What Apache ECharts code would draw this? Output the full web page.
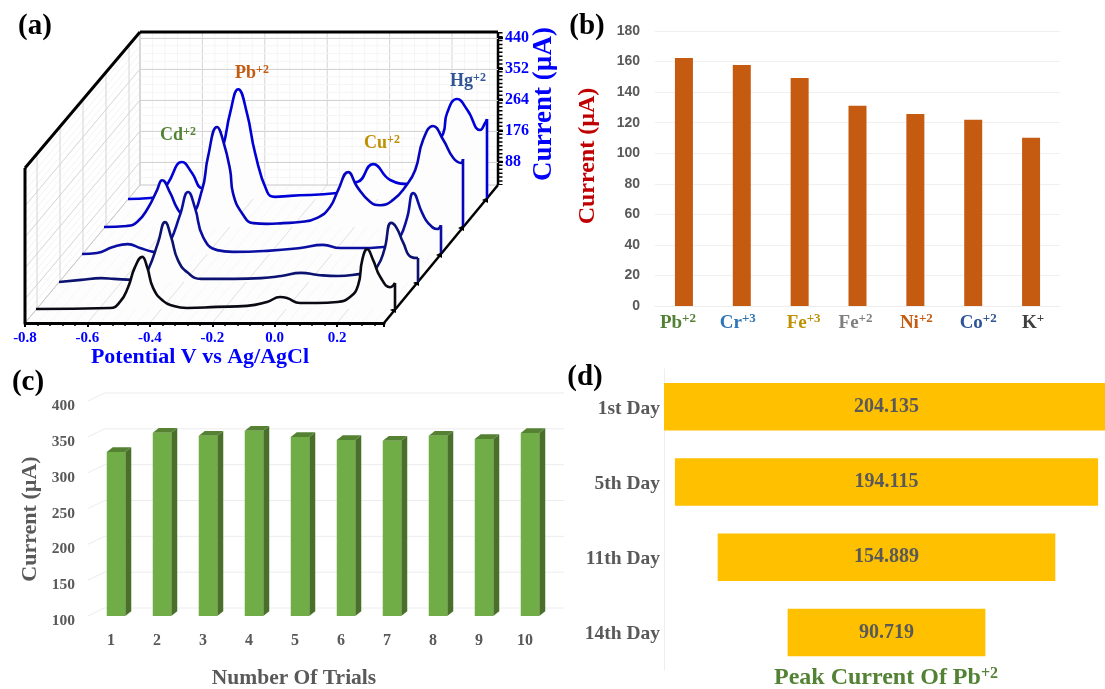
<!DOCTYPE html>
<html><head><meta charset="utf-8">
<style>html,body{margin:0;padding:0;background:#fff}#c{width:1105px;height:689px}</style>
<script src="https://cdn.jsdelivr.net/npm/echarts@6/dist/echarts.min.js"></script>
</head><body><div id="c"></div>
<script>
// ---------- Panel (a): voltammograms, front to back ----------
const potentialA=[-0.80,-0.563,-0.531,-0.505,-0.483,-0.460,-0.444,-0.425,-0.393,-0.361,-0.316,-0.220,-0.124,-0.060,-0.018,0.004,0.046,0.101,0.165,0.206,0.232,0.245,0.261,0.280,0.303,0.335,0.35];
const currentA=[0,3,20,62,119,148,119,60,23,9,3,6,9,20,34,31,17,17,20,34,68,139,170,139,91,62,74];
const potentialB=[-0.80,-0.729,-0.665,-0.624,-0.563,-0.537,-0.512,-0.483,-0.460,-0.441,-0.419,-0.387,-0.345,-0.239,-0.153,-0.088,-0.024,0.030,0.094,0.168,0.194,0.219,0.242,0.264,0.280,0.303,0.328,0.35];
const currentB=[0,6,11,9,6,6,40,111,170,128,62,26,9,9,11,17,26,20,17,23,26,43,91,168,156,111,71,68];
const potentialC=[-0.80,-0.752,-0.701,-0.653,-0.614,-0.572,-0.544,-0.518,-0.486,-0.460,-0.438,-0.412,-0.367,-0.316,-0.207,-0.101,-0.028,0.027,0.101,0.165,0.194,0.219,0.242,0.261,0.290,0.309,0.338,0.35];
const currentC=[0,3,20,28,17,6,3,34,111,176,131,48,11,6,9,17,26,17,17,20,23,48,105,173,116,88,71,82];
const potentialD=[-0.80,-0.726,-0.694,-0.659,-0.630,-0.614,-0.588,-0.566,-0.550,-0.524,-0.486,-0.467,-0.438,-0.419,-0.396,-0.387,-0.354,-0.322,-0.278,-0.226,-0.172,-0.117,-0.076,-0.050,-0.018,0.011,0.053,0.085,0.126,0.165,0.197,0.222,0.254,0.287,0.319,0.344,0.35];
const currentD=[0,3,14,54,105,133,97,54,40,40,105,199,284,247,162,97,34,11,9,11,14,26,57,105,156,114,71,62,77,114,162,247,287,247,196,182,193];
const potentialE=[-0.80,-0.729,-0.704,-0.672,-0.627,-0.595,-0.563,-0.537,-0.496,-0.473,-0.447,-0.419,-0.393,-0.354,-0.329,-0.281,-0.130,-0.105,-0.066,-0.015,0.040,0.097,0.120,0.184,0.210,0.222,0.254,0.287,0.328,0.344,0.35];
const currentE=[0,3,9,45,105,74,31,54,148,244,312,244,131,20,6,9,17,45,48,99,54,43,74,153,187,244,284,253,196,216,227];
// ---------- Panel (b) ----------
const ionCategories=['Pb+2','Cr+3','Fe+3','Fe+2','Ni+2','Co+2','K+'];
const ionCurrents=[162.3,157.7,149.2,131,125.6,121.9,110.2];
// ---------- Panel (c) ----------
const trialCategories=['1','2','3','4','5','6','7','8','9','10'];
const trialCurrents=[329,355.8,351.6,358.6,349.8,345.5,344.6,351.6,347,355.4];
const trialAxisTicks=[100,150,200,250,300,350,400];
// ---------- Panel (d) ----------
const dayCategories=['1st Day','5th Day','11th Day','14th Day'];
const dayPeakCurrents=[204.135,194.115,154.889,90.719];

const SERIF='"Liberation Serif","Times New Roman",serif';
const SANS='"Liberation Sans",Arial,sans-serif';
const grids=[],xAxes=[],yAxes=[],series=[],gfx=[];

function seg(x1,y1,x2,y2,stroke,w,dash){gfx.push({type:'line',silent:true,z:dash?5:0,shape:{x1,y1,x2,y2},style:{stroke,lineWidth:w,lineDash:dash||null}});}
function txt(text,x,y,font,fill,opt){opt=opt||{};gfx.push({type:'text',silent:true,z:30,x,y,rotation:opt.rot||0,style:{text,font,fill,align:opt.align||'center',verticalAlign:'middle'}});}
function supRich(color,size,sup){return {b:{font:'bold '+size+'px '+SERIF,fill:color,color:color},s:{font:'bold '+sup+'px '+SERIF,fill:color,color:color,verticalAlign:'top'}};}
function ion(name,charge,x,y,color,size,sup){
  gfx.push({type:'text',silent:true,z:30,x,y,style:{text:'{b|'+name+'}{s|'+charge+'}',align:'center',verticalAlign:'middle',rich:supRich(color,size,sup)}});
}

// --- 3D frame of panel (a)
const bx0=140,bx1=498,by0=32,by1=185,fx0=25,fx1=384,fy=323,ly=168;
gfx.push({type:'polygon',silent:true,z:0,shape:{points:[[fx0,fy],[bx0,by1],[bx1,by1],[fx1,fy]]},style:{fill:'#fdfdfd'}});
for(let d=0;d<=358;d+=12.48){const maj=Math.round(d/12.48)%5===0;
  seg(bx0+d,by0,bx0+d,by1,maj?'#d4d4d4':'#f5f5f5',1);
  if(d<fx1-fx0) seg(bx0+d,by1,fx0+d,fy,maj?'#e0e0e0':'#f7f7f7',1);
}
for(let y=by0+6;y<by1;y+=7.75){
  seg(bx0,y,bx1,y,'#f5f5f5',1);
  seg(bx0,y,fx0,y+137,'#f3f3f3',1);
}
[69,100,131,162].forEach(y=>seg(bx0,y,fx0,y+137,'#d8d8d8',1));
for(let k=0;k<5;k++){const x=37+23*k;seg(x,ly-(x-fx0)*136/115,x,fy-(x-fx0)*138/115,'#d4d4d4',1);}
seg(bx0,by0,bx0,by1,'#c8c8c8',1);
seg(bx0,by1,bx1,by1,'#c8c8c8',1);
seg(fx0,fy,bx0,by1,'#c8c8c8',1);
seg(fx0,ly,fx0,fy,'#000',3);
seg(fx0,ly,bx0,by0,'#000',3);
seg(bx0,by0,bx1,by0,'#000',3);
seg(bx1,by0,bx1,by1,'#000',2.5);
seg(fx1,fy,bx1,by1,'#000',2.5);
seg(bx1+2.5,by0,bx1+2.5,by1,'#000',4,[1.5,2.4]);

// --- curves, one shifted plot per depth
const curveRows=[
 {p:potentialE,c:currentE,left:128,base:199,color:'#0000d8'},
 {p:potentialD,c:currentD,left:104,base:227,color:'#0505c0'},
 {p:potentialC,c:currentC,left:82,base:254,color:'#0a0fa0'},
 {p:potentialB,c:currentB,left:59,base:282,color:'#0b1270'},
 {p:potentialA,c:currentA,left:36,base:309,color:'#0a0a14'}
];
function addGrid(g,x,y){g.outerBoundsMode='none';grids.push(g);const i=grids.length-1;xAxes.push(Object.assign({gridIndex:i},x));yAxes.push(Object.assign({gridIndex:i},y));return i;}
curveRows.forEach((r,k)=>{
  const i=addGrid({left:r.left,top:r.base-140.8,width:359,height:140.8},
    {type:'value',min:-0.8,max:0.35,show:false},{type:'value',min:0,max:400,show:false});
  const pts=r.p.map((v,j)=>[v,r.c[j]]);
  series.push({type:'line',xAxisIndex:i,yAxisIndex:i,data:pts,smooth:0.5,showSymbol:false,symbol:'none',clip:false,z:3+k,
    lineStyle:{color:r.color,width:2.6},areaStyle:{color:'#fdfdfd',opacity:1,origin:'start'},silent:true});
  const last=pts[pts.length-1];
  series.push({type:'line',xAxisIndex:i,yAxisIndex:i,data:[last,[last[0],0]],showSymbol:false,symbol:'none',clip:false,z:3+k,lineStyle:{color:r.color,width:2.6},silent:true});
  const x=r.left+359,y=r.base+1;
  gfx.push({type:'polygon',silent:true,z:6,shape:{points:[[x-5,y],[x+1,y-3],[x+1,y+3]]},style:{fill:'#000'}});
});
// wall current axis
addGrid({left:bx0,top:38,width:bx1-bx0,height:124},{type:'value',min:0,max:1,show:false},
 {type:'value',position:'right',min:88,max:440,interval:88,
  axisLine:{show:false,onZero:false},axisTick:{show:true,length:5,lineStyle:{color:'#000',width:2}},
  splitLine:{show:true,lineStyle:{color:'#d4d4d4',width:1}},
  axisLabel:{margin:7,color:'#0000ff',fontFamily:SERIF,fontWeight:'bold',fontSize:16}});
// front potential axis
addGrid({left:fx0,top:fy-50,width:fx1-fx0,height:50},
 {type:'value',min:-0.8,max:0.35,interval:0.2,position:'bottom',splitLine:{show:false},
  axisLine:{show:true,onZero:false,lineStyle:{color:'#000',width:3}},
  axisTick:{show:true,length:4,lineStyle:{color:'#000',width:2}},
  minorTick:{show:true,splitNumber:5,length:3,lineStyle:{color:'#000',width:1.5}},
  axisLabel:{margin:8,showMaxLabel:false,color:'#0000ff',fontFamily:SERIF,fontWeight:'bold',fontSize:15,formatter:v=>v>0.3?'':v.toFixed(1)}},
 {type:'value',min:0,max:1,show:false});

// --- Panel (b)
const ionColors=['#548235','#2E75B6','#BF9000','#7F7F7F','#C55A11','#2F5597','#404040'];
const ionShift=[-6,-4,4,-2,1,5,2];
const ionRich={};
ionColors.forEach((c,i)=>{const sh=ionShift[i];
  ionRich['b'+i]={color:c,fontFamily:SERIF,fontWeight:'bold',fontSize:19,lineHeight:22,padding:[0,0,0,sh>0?sh*2:0]};
  ionRich['s'+i]={color:c,fontFamily:SERIF,fontWeight:'bold',fontSize:13,lineHeight:22,verticalAlign:'top',padding:[0,sh<0?-sh*2:0,0,0]};
});
let gi=addGrid({left:655,top:31,width:405,height:275},
 {type:'category',data:ionCategories,axisLine:{show:true,lineStyle:{color:'#eeeeee'}},axisTick:{show:false},
  axisLabel:{margin:6,interval:0,rich:ionRich,formatter:(v,i)=>{const m=v.match(/^([A-Za-z]+)(\+\d?)$/);return '{b'+i+'|'+m[1]+'}{s'+i+'|'+m[2]+'}';}}},
 {type:'value',min:0,max:180,interval:20,axisLine:{show:false},axisTick:{show:false},splitLine:{lineStyle:{color:'#f0f0f0',width:1}},
  axisLabel:{margin:15,color:'#595959',fontFamily:SANS,fontWeight:'bold',fontSize:14}});
series.push({type:'bar',xAxisIndex:gi,yAxisIndex:gi,data:ionCurrents,barWidth:18,itemStyle:{color:'#C55A11'},silent:true});

// --- Panel (c)
gi=addGrid({left:88,top:401,width:460,height:215},
 {type:'category',data:trialCategories,axisLine:{show:false},axisTick:{show:false},
  axisLabel:{margin:17,interval:0,color:'#595959',fontFamily:SERIF,fontWeight:'bold',fontSize:16}},
 {type:'value',min:100,max:400,interval:50,axisLine:{show:false},axisTick:{show:false},splitLine:{show:false},
  axisLabel:{margin:13,formatter:'{a|{value}}',rich:{a:{padding:[10,0,0,0],color:'#595959',fontFamily:SERIF,fontWeight:'bold',fontSize:15.5}}}});
series.push({type:'custom',xAxisIndex:gi,yAxisIndex:gi,silent:true,z:1,data:trialAxisTicks.map(v=>[0,v]),encode:{x:0,y:1},
 renderItem:(params,api)=>{const cs=params.coordSys,y=api.coord([0,api.value(1)])[1];
  return {type:'polyline',shape:{points:[[cs.x,y],[cs.x+16.5,y-8],[cs.x+cs.width+16,y-8]]},style:{fill:'none',stroke:'#ececec',lineWidth:1}};}});
series.push({type:'custom',xAxisIndex:gi,yAxisIndex:gi,silent:true,z:3,data:trialCurrents.map((v,i)=>[i,v]),encode:{x:0,y:1},
 renderItem:(params,api)=>{
  const top=api.coord([api.value(0),api.value(1)]),bot=api.coord([api.value(0),100]);
  const l=top[0]+5-9.25,r=top[0]+5+9.25,t=top[1],b=bot[1],dx=6,dy=4.7;
  return {type:'group',children:[
   {type:'polygon',shape:{points:[[r,t],[r+dx,t-dy],[r+dx,b-dy],[r,b]]},style:{fill:'#4A6F2A'}},
   {type:'polygon',shape:{points:[[l,t],[r,t],[r+dx,t-dy],[l+dx,t-dy]]},style:{fill:'#558133'}},
   {type:'rect',shape:{x:l,y:t,width:r-l,height:b-t},style:{fill:'#70AD47'}}
  ]};}});

// --- Panel (d)
const dayMax=Math.max(...dayPeakCurrents);
gi=addGrid({left:664,top:369,width:445,height:301},
 {type:'value',min:0,max:dayMax,show:false},
 {type:'category',inverse:true,data:dayCategories,axisLine:{show:true,lineStyle:{color:'#eeeeee'}},axisTick:{show:false},
  axisLabel:{margin:4,formatter:'{a|{value}}',rich:{a:{padding:[4,0,0,0],color:'#595959',fontFamily:SERIF,fontWeight:'bold',fontSize:19.5}}}});
series.push({type:'bar',xAxisIndex:gi,yAxisIndex:gi,stack:'days',barWidth:47.5,silent:true,itemStyle:{color:'transparent'},data:dayPeakCurrents.map(v=>(dayMax-v)/2)});
series.push({type:'bar',xAxisIndex:gi,yAxisIndex:gi,stack:'days',barWidth:47.5,silent:true,itemStyle:{color:'#FFC000'},data:dayPeakCurrents,
 label:{show:true,position:'inside',color:'#595959',fontFamily:SERIF,fontWeight:'bold',fontSize:20,formatter:p=>p.value.toFixed(3)}});

// --- Text
const panelFont='bold 29px '+SERIF;
txt('(a)',35,27,panelFont,'#000');
txt('(b)',587,27,panelFont,'#000');
txt('(c)',28,383,panelFont,'#000');
txt('(d)',585,378,panelFont,'#000');
txt('Current (µA)',544,104,'bold 27px '+SERIF,'#0000ff',{rot:Math.PI/2});
txt('Potential V vs Ag/AgCl',200,357,'bold 22px '+SERIF,'#0000ff');
ion('Pb','+2',252,73,'#C55A11',18,12);
ion('Cd','+2',178,135,'#548235',18,12);
ion('Cu','+2',382,143,'#BF9000',18,12);
ion('Hg','+2',468,81,'#2F5597',18,12);
txt('Current (µA)',588,156,'bold 24px '+SERIF,'#C00000',{rot:Math.PI/2});
txt('Current (µA)',30,519,'bold 22px '+SERIF,'#595959',{rot:Math.PI/2});
txt('Number Of Trials',294,678,'bold 21.5px '+SERIF,'#595959');
ion('Peak Current Of Pb','+2',886,678,'#548235',24,16);

const chart=echarts.init(document.getElementById('c'),null,{renderer:'canvas',width:1105,height:689});
chart.setOption({animation:false,backgroundColor:'#fff',grid:grids,xAxis:xAxes,yAxis:yAxes,series,graphic:{elements:gfx}});
</script></body></html>
